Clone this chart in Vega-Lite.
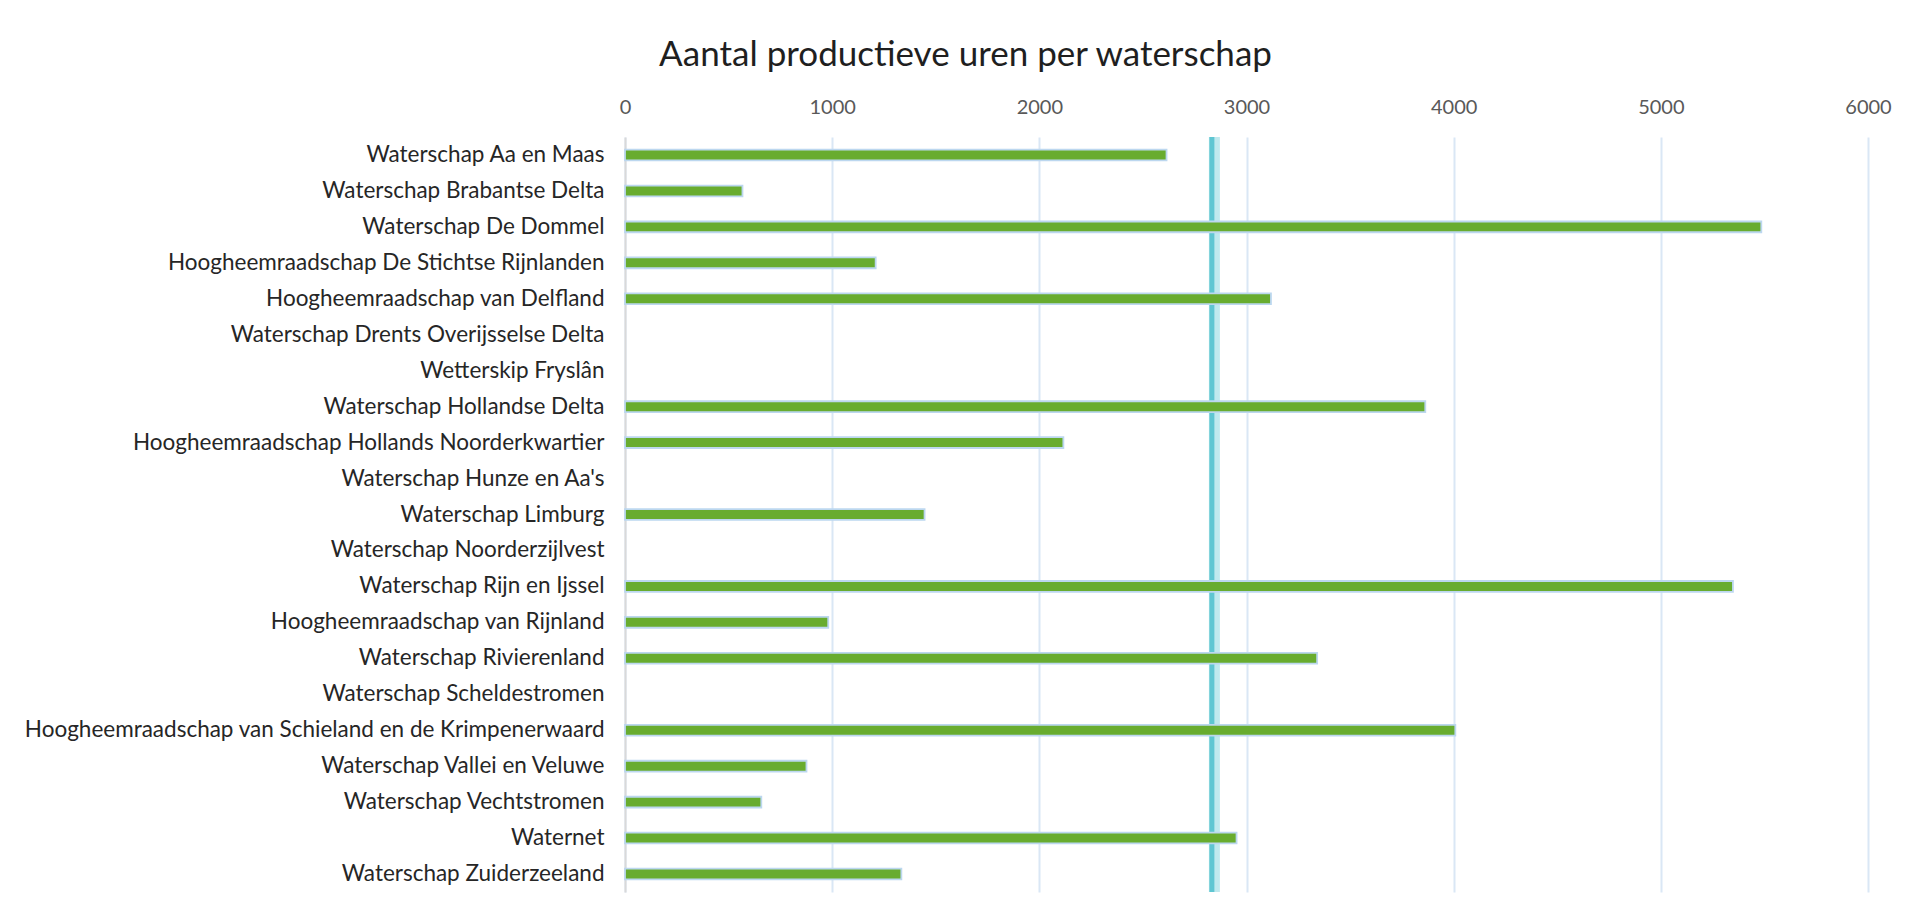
{
  "$schema": "https://vega.github.io/schema/vega-lite/v6.json",
  "autosize": {"type": "none"},
  "width": 1243,
  "height": 755,
  "padding": {"left": 625, "top": 137, "right": 40, "bottom": 26},
  "background": "#ffffff",
  "config": {
    "font": "Lato",
    "view": {"stroke": null}
  },
  "title": {
    "text": "Aantal productieve uren per waterschap",
    "font": "Lato",
    "fontSize": 35,
    "fontWeight": "normal",
    "color": "#1f1f1f",
    "anchor": "middle",
    "frame": "bounds",
    "offset": 24,
    "dx": 8
  },
  "datasets": {
    "uren": [
      {"waterschap": "Waterschap Aa en Maas", "uren": 2614},
      {"waterschap": "Waterschap Brabantse Delta", "uren": 567},
      {"waterschap": "Waterschap De Dommel", "uren": 5485},
      {"waterschap": "Hoogheemraadschap De Stichtse Rijnlanden", "uren": 1210},
      {"waterschap": "Hoogheemraadschap van Delfland", "uren": 3118},
      {"waterschap": "Waterschap Drents Overijsselse Delta", "uren": 0},
      {"waterschap": "Wetterskip Fryslân", "uren": 0},
      {"waterschap": "Waterschap Hollandse Delta", "uren": 3863},
      {"waterschap": "Hoogheemraadschap Hollands Noorderkwartier", "uren": 2116},
      {"waterschap": "Waterschap Hunze en Aa's", "uren": 0},
      {"waterschap": "Waterschap Limburg", "uren": 1446},
      {"waterschap": "Waterschap Noorderzijlvest", "uren": 0},
      {"waterschap": "Waterschap Rijn en Ijssel", "uren": 5348},
      {"waterschap": "Hoogheemraadschap van Rijnland", "uren": 981},
      {"waterschap": "Waterschap Rivierenland", "uren": 3341},
      {"waterschap": "Waterschap Scheldestromen", "uren": 0},
      {"waterschap": "Hoogheemraadschap van Schieland en de Krimpenerwaard", "uren": 4008},
      {"waterschap": "Waterschap Vallei en Veluwe", "uren": 876},
      {"waterschap": "Waterschap Vechtstromen", "uren": 658},
      {"waterschap": "Waternet", "uren": 2952},
      {"waterschap": "Waterschap Zuiderzeeland", "uren": 1334}
    ],
    "referentie": [{"waarde": 2845}]
  },
  "layer": [
    {
      "data": {"name": "referentie"},
      "mark": {"type": "rule", "color": "#bfe9ee", "strokeWidth": 11},
      "encoding": {
        "x": {"field": "waarde", "type": "quantitative", "scale": {"domain": [0, 6000]}}
      }
    },
    {
      "data": {"name": "referentie"},
      "mark": {"type": "rule", "color": "#5fc6d2", "strokeWidth": 5, "xOffset": -2.5},
      "encoding": {
        "x": {"field": "waarde", "type": "quantitative"}
      }
    },
    {
      "data": {"name": "uren"},
      "mark": {"type": "bar", "color": "#68ac2f", "stroke": "#bcd7ef", "strokeWidth": 1.8},
      "encoding": {
        "y": {
          "field": "waterschap",
          "type": "nominal",
          "sort": null,
          "scale": {"paddingInner": 0.7, "paddingOuter": 0.35},
          "axis": {
            "title": null,
            "ticks": false,
            "domain": true,
            "domainColor": "#d9d9d9",
            "domainWidth": 2,
            "labelFont": "Lato",
            "labelFontSize": 22.5,
            "labelColor": "#262626",
            "labelPadding": 21,
            "labelLimit": 800
          }
        },
        "x": {
          "field": "uren",
          "type": "quantitative",
          "scale": {"domain": [0, 6000], "nice": false},
          "axis": {
            "orient": "top",
            "title": null,
            "values": [0, 1000, 2000, 3000, 4000, 5000, 6000],
            "format": "d",
            "domain": false,
            "ticks": false,
            "grid": true,
            "gridColor": "#dae7f5",
            "gridWidth": 2,
            "labelFlush": false,
            "labelFont": "Lato",
            "labelFontSize": 20,
            "labelColor": "#595959",
            "labelPadding": 20
          }
        },
        "strokeOpacity": {
          "condition": {"test": "datum.uren > 0", "value": 1},
          "value": 0
        }
      }
    }
  ]
}
